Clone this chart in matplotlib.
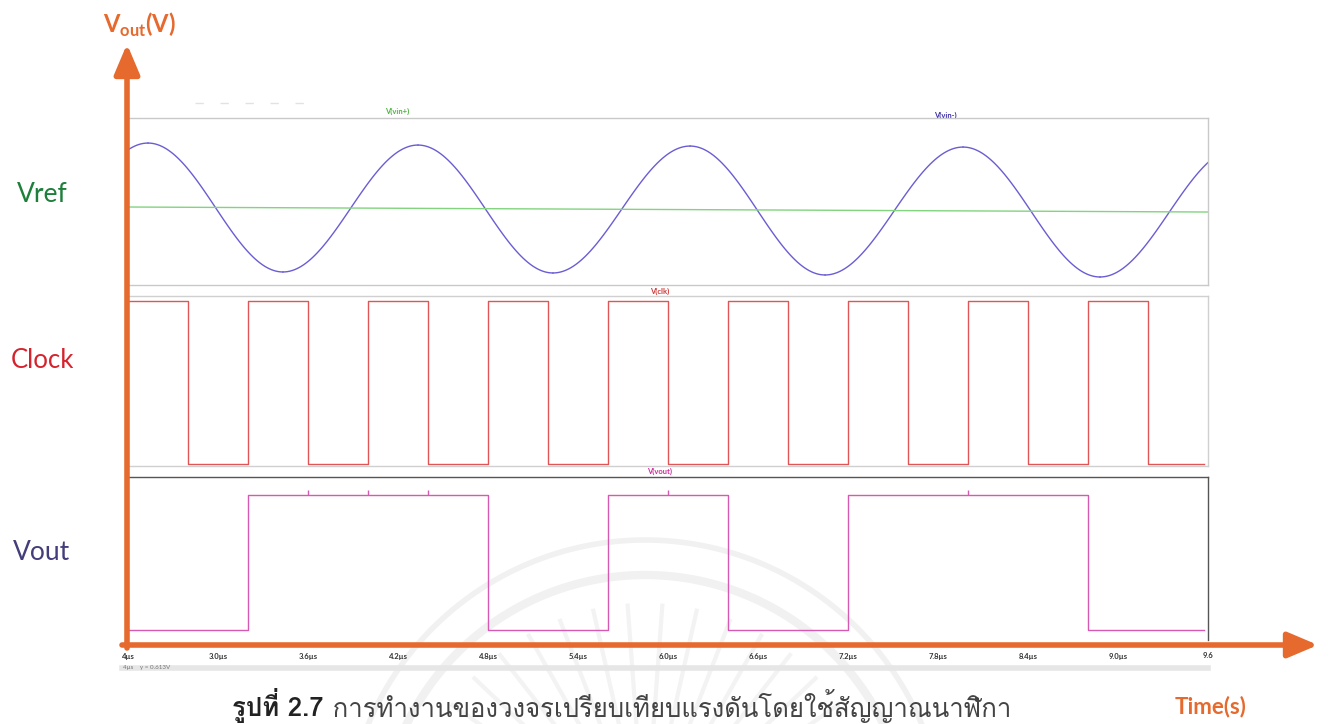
import matplotlib.pyplot as plt
import numpy as np
from matplotlib import font_manager as fm
from matplotlib.ft2font import FT2Font

# --- data (time in µs, levels in V) ---

# sine input V(vin-): times and levels of its peaks / troughs
sine_ext_t = [1.633, 2.533, 3.433, 4.333, 5.233, 6.147, 7.047, 7.967, 8.880, 9.800]
sine_ext_v = [0.078, 0.850, 0.078, 0.838, 0.072, 0.832, 0.060, 0.826, 0.048, 0.820]

# reference V(vin+): start / end level (slight tilt of the scan)
vref_t = [2.4, 9.6]
vref_v = [0.467, 0.437]

# clock V(clk): edge times and level after each edge
clk_t = [2.4, 2.8, 3.2, 3.6, 4.0, 4.4, 4.8, 5.2, 5.6, 6.0, 6.4, 6.8, 7.2, 7.6, 8.0, 8.4, 8.8, 9.2, 9.57]
clk_v = [1, 0, 1, 0, 1, 0, 1, 0, 1, 0, 1, 0, 1, 0, 1, 0, 1, 0, 0]

# comparator output V(vout): edge times and level after each edge
vout_t = [2.4, 3.2, 4.8, 5.6, 6.4, 7.2, 8.8, 9.57]
vout_v = [0, 1, 0, 1, 0, 1, 0, 0]
glitch_t = [3.6, 4.0, 4.4, 6.0, 8.0]

tick_t = [2.4, 3.0, 3.6, 4.2, 4.8, 5.4, 6.0, 6.6, 7.2, 7.8, 8.4, 9.0, 9.6]
tick_labels = ["4µs", "3.0µs", "3.6µs", "4.2µs", "4.8µs", "5.4µs", "6.0µs",
               "6.6µs", "7.2µs", "7.8µs", "8.4µs", "9.0µs", "9.6"]

row_labels = ["Vref", "Clock", "Vout"]
caption_bold = "รูปที่ 2.7"
caption_rest = " การทำงานของวงจรเปรียบเทียบแรงดันโดยใช้สัญญาณนาฬิกา"

# --- style ---
ORANGE = "#E6692D"
C_SINE = "#6a5dd3"
C_REF = "#82d47e"
C_CLK = "#e05656"
C_OUT = "#d65ab2"
ROW_COLORS = ["#1d7f3a", "#d5232e", "#433d7b"]

plt.rcParams["font.family"] = ["Lato", "DejaVu Sans"]
plt.rcParams["mathtext.fontset"] = "custom"
plt.rcParams["mathtext.bf"] = "Lato:bold"
plt.rcParams["mathtext.rm"] = "Lato"


def find_thai_family():
    # look for any installed font that carries Thai glyphs
    paths = [f.fname for f in fm.fontManager.ttflist]
    try:
        paths += fm.findSystemFonts()
    except Exception:
        pass
    seen = set()
    for p in paths:
        if p in seen:
            continue
        seen.add(p)
        try:
            if ord("ก") in FT2Font(p).get_charmap():
                fm.fontManager.addfont(p)
                return fm.FontProperties(fname=p).get_name()
        except Exception:
            continue
    return None


thai_name = find_thai_family()
thai = ([thai_name] if thai_name else []) + ["Noto Sans", "DejaVu Sans"]

W, H = 1331, 724
fig = plt.figure(figsize=(W / 100, H / 100), dpi=100)


def box(x0, y0, x1, y1):
    return [x0 / W, 1 - y1 / H, (x1 - x0) / W, (y1 - y0) / H]


# background layer in pixel coordinates (watermark, status bar)
bg = fig.add_axes([0, 0, 1, 1], zorder=0)
bg.set_xlim(0, W)
bg.set_ylim(H, 0)
bg.axis("off")

# faint watermark logo
cx, cy = 645, 840
th = np.linspace(np.radians(200), np.radians(340), 200)
for r, lw in [(265, 6), (300, 4)]:
    bg.plot(cx + r * np.cos(th), cy + r * np.sin(th), color="#f1f1f1", lw=lw, zorder=0)
for a in np.linspace(np.radians(215), np.radians(325), 14):
    bg.plot([cx + 110 * np.cos(a), cx + 235 * np.cos(a)],
            [cy + 110 * np.sin(a), cy + 235 * np.sin(a)], color="#f3f3f3", lw=3, zorder=0)

# status bar remnants
bg.plot([122, 1208], [668, 668], color="#e6e6e6", lw=4, zorder=1)
bg.plot([195, 320], [103, 103], color="#e2e2e2", lw=1, ls=(0, (6, 12)), zorder=1)
bg.text(123, 668, "4µs    y = 0.613V", fontsize=4.5, color="#777777", va="center", zorder=2)


def make_panel(y0, y1, ylim, edge):
    ax = fig.add_axes(box(128, y0, 1208, y1), zorder=2)
    ax.set_facecolor("none")
    ax.set_xlim(2.4, 9.6)
    ax.set_ylim(*ylim)
    ax.set_yticks([])
    ax.set_xticks([])
    for s in ax.spines.values():
        s.set_color(edge)
        s.set_linewidth(1)
    ax.spines["left"].set_visible(False)
    return ax


# panel 1: V(vin+), V(vin-)
ax1 = make_panel(118, 285, (0, 1), "#c9c9c9")
for i in range(len(sine_ext_t) - 1):
    t = np.linspace(sine_ext_t[i], sine_ext_t[i + 1], 60)
    u = (t - sine_ext_t[i]) / (sine_ext_t[i + 1] - sine_ext_t[i])
    a, b = sine_ext_v[i], sine_ext_v[i + 1]
    ax1.plot(t, a + (b - a) * (1 - np.cos(np.pi * u)) / 2, color=C_SINE, lw=1)
ax1.plot(vref_t, vref_v, color=C_REF, lw=1)

# panel 2: V(clk)
ax2 = make_panel(296, 466, (-0.012, 1.031), "#d0d0d0")
ax2.step(clk_t, clk_v, where="post", color=C_CLK, lw=1)

# panel 3: V(vout)
ax3 = make_panel(477, 640, (-0.074, 1.133), "#555555")
ax3.spines["bottom"].set_visible(False)
ax3.step(vout_t, vout_v, where="post", color=C_OUT, lw=1)
ax3.vlines(glitch_t, 1.0, 1.04, color=C_OUT, lw=1)
ax3.set_xticks(tick_t)
ax3.set_xticklabels(tick_labels, fontsize=5.5, color="#333333", fontweight="bold")
ax3.tick_params(axis="x", length=0, pad=9)

# trace names
bg.text(397, 111, "V(vin+)", fontsize=5.5, color="#4fb541", fontweight="bold", ha="center", va="center", zorder=3)
bg.text(945, 115, "V(vin-)", fontsize=5.5, color="#3a2ea8", fontweight="bold", ha="center", va="center", zorder=3)
bg.text(660, 291, "V(clk)", fontsize=5.5, color="#cf3b3b", fontweight="bold", ha="center", va="center", zorder=3)
bg.text(660, 471, "V(vout)", fontsize=5.5, color="#cf2d9c", fontweight="bold", ha="center", va="center", zorder=3)

# orange axes with arrows (overlay)
top = fig.add_axes([0, 0, 1, 1], zorder=5)
top.set_xlim(0, W)
top.set_ylim(H, 0)
top.axis("off")
arrow = dict(arrowstyle="-|>,head_length=1.3,head_width=0.55", color=ORANGE, lw=4,
             mutation_scale=14, shrinkA=0, shrinkB=0)
top.annotate("", xy=(127, 44), xytext=(127, 648), arrowprops=arrow)
top.annotate("", xy=(1318, 645), xytext=(122, 645), arrowprops=arrow)

top.text(139, 25, r"$\mathbf{V}_{\mathbf{out}}\mathbf{(V)}$", fontsize=17, color=ORANGE,
         ha="center", va="center")
top.text(1211, 707, "Time(s)", fontsize=16, color=ORANGE, fontweight="bold",
         ha="center", va="center")

for label, color, y, fs in zip(row_labels, ROW_COLORS, [195, 360, 552], [19, 18.5, 19]):
    top.text(42, y, label, fontsize=fs, color=color, ha="center", va="center")

# caption
cap = top.text(232, 716, caption_bold, fontsize=18.5, fontweight="bold", color="#222222",
               va="baseline", family=thai)
top.annotate(caption_rest, xycoords=cap, xy=(1, 0), va="bottom", fontsize=18.5,
             color="#444444", family=thai)

fig.savefig("out.png", dpi=100)
